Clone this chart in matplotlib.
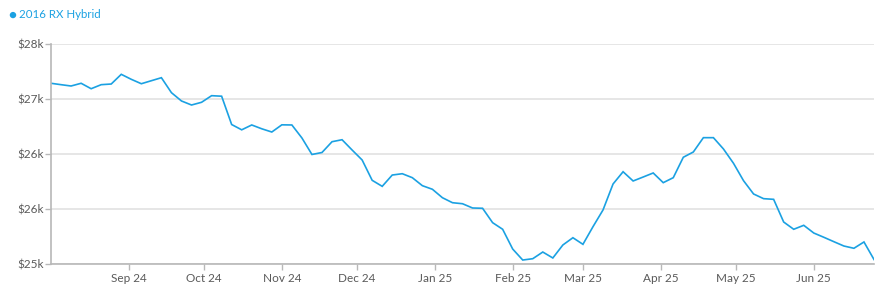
import matplotlib; matplotlib.use("Agg")
import matplotlib.pyplot as plt
import matplotlib.dates as mdates
from matplotlib.ticker import FuncFormatter
import pandas as pd

# weekly-ish price series (every 4 days)
start_date = "2024-08-01"
step_days = 4
prices = [27458, 27439, 27421, 27458, 27384, 27439, 27448, 27580, 27512, 27452,
          27493, 27534, 27330, 27217, 27162, 27199, 27289, 27282, 26896, 26824,
          26890, 26838, 26794, 26892, 26890, 26713, 26488, 26515, 26662, 26689,
          26549, 26413, 26136, 26054, 26208, 26226, 26172, 26063, 26014, 25899,
          25831, 25817, 25759, 25755, 25559, 25469, 25200, 25050, 25068, 25159,
          25078, 25255, 25354, 25264, 25504, 25732, 26086, 26253, 26127, 26181,
          26236, 26104, 26172, 26450, 26522, 26717, 26717, 26563, 26368, 26131,
          25950, 25886, 25877, 25568, 25469, 25523, 25418, 25360, 25300, 25241,
          25210, 25296, 25057]
series_name = "2016 RX Hybrid"
y_ticks = [25000, 25750, 26500, 27250, 28000]

dates = pd.date_range(start_date, periods=len(prices), freq=f"{step_days}D")

plt.rcParams["font.family"] = ["Lato", "DejaVu Sans"]
blue = "#1ba1e2"
grey_text = "#5a5a5a"

fig = plt.figure(figsize=(8.85, 2.88), dpi=100)
ax = fig.add_axes([51 / 885, 1 - 263.7 / 288, (874 - 51) / 885, (263.7 - 43.5) / 288])

ax.plot(dates, prices, color=blue, lw=1.2, solid_joinstyle="miter")

ax.set_xlim(dates[0], dates[-1])
ax.set_ylim(25000, 28000)
ax.set_yticks(y_ticks)
ax.yaxis.set_major_formatter(FuncFormatter(lambda v, p: f"${round(v / 1000)}k"))
ax.xaxis.set_major_locator(mdates.MonthLocator(bymonth=range(1, 13), bymonthday=1))
ax.xaxis.set_major_formatter(mdates.DateFormatter("%b %y"))
ticks = [t for t in ax.get_xticks() if t > mdates.date2num(dates[0])]
ax.set_xticks(ticks)

ax.grid(axis="y", color="#e4e4e4", lw=1.3)
ax.set_axisbelow(True)
for s in ["top", "right"]:
    ax.spines[s].set_visible(False)
for s in ["left", "bottom"]:
    ax.spines[s].set_color("#b8b8b8")
    ax.spines[s].set_linewidth(1.2)
ax.tick_params(axis="both", colors="#b8b8b8", labelcolor=grey_text, labelsize=8.5,
               length=4, width=1)
ax.tick_params(axis="y", pad=1.5)
ax.tick_params(axis="x", pad=2.5)

# legend-like label at top left
fig.text(12.5 / 885, 1 - 14.5 / 288, "\u25cf", color=blue, fontsize=9.5, ha="center", va="center")
fig.text(19 / 885, 1 - 14 / 288, series_name, color=blue, fontsize=8.3, ha="left", va="center")

plt.savefig("out.png", dpi=100)
plt.close()
